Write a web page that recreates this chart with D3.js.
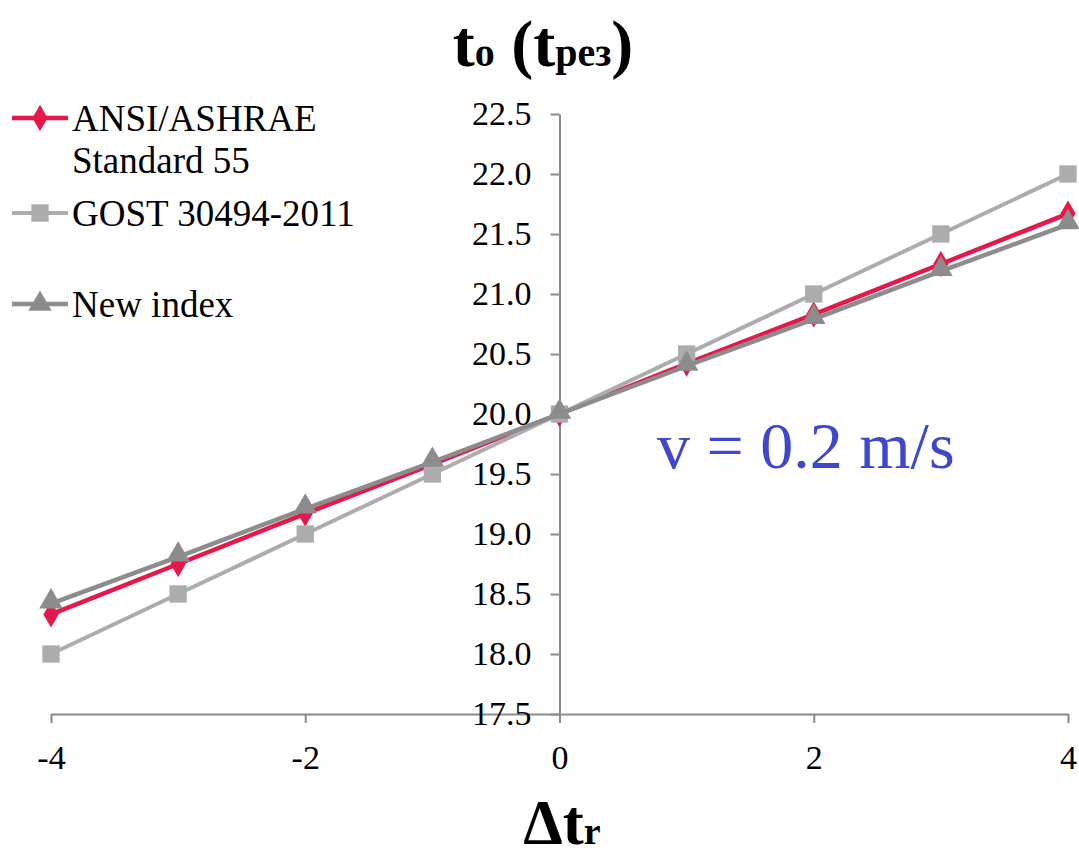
<!DOCTYPE html>
<html>
<head>
    <title>to vs delta tr</title>
    <script src="https://d3js.org/d3.v7.min.js"></script>
    <style>
        body { margin: 0; background-color: #ffffff; }
        svg text { font-family: "Liberation Serif", "Times New Roman", serif; }
    </style>
</head>
<body>
    <svg id="chart" width="1079" height="860"></svg>
    <script>
        // data
        var dtr = [-4, -3, -2, -1, 0, 1, 2, 3, 4];
        var ansi = [18.33, 18.75, 19.17, 19.58, 20.0, 20.42, 20.83, 21.25, 21.67];
        var gost = [18.0, 18.5, 19.0, 19.5, 20.0, 20.5, 21.0, 21.5, 22.0];
        var newIndex = [18.42, 18.81, 19.21, 19.6, 20.0, 20.4, 20.79, 21.19, 21.58];
        var yTicks = [17.5, 18.0, 18.5, 19.0, 19.5, 20.0, 20.5, 21.0, 21.5, 22.0, 22.5];
        var xTicks = [-4, -2, 0, 2, 4];

        var series = [
            { name: "ANSI/ASHRAE", name2: "Standard 55", values: ansi, color: "#e8174a", width: 4.5, marker: "diamond", legendY: 118 },
            { name: "GOST 30494-2011", values: gost, color: "#acacac", width: 4, marker: "square", legendY: 213 },
            { name: "New index", values: newIndex, color: "#8c8c8c", width: 4.5, marker: "triangle", legendY: 304 }
        ];

        var svg = d3.select("#chart");

        var xScale = d3.scaleLinear().domain([-4, 4]).range([51, 1068]);
        var yScale = d3.scaleLinear().domain([17.5, 22.5]).range([714, 114]);

        var axisColor = "#8a8a8a";

        // x axis at y = 17.5
        var xAxis = svg.append("g")
            .attr("transform", "translate(0," + yScale(17.5) + ")")
            .attr("font-family", "Liberation Serif")
            .call(d3.axisBottom(xScale).tickValues(xTicks).tickSize(9).tickPadding(22).tickSizeOuter(0).tickFormat(d3.format("d")));
        xAxis.attr("font-family", "Liberation Serif");
        xAxis.select(".domain").attr("stroke", axisColor).attr("stroke-width", 2);
        xAxis.selectAll(".tick line").attr("stroke", axisColor).attr("stroke-width", 2);
        xAxis.selectAll(".tick text")
            .attr("fill", "#000")
            .style("font-size", "34px")
            .style("font-family", "Liberation Serif")
            .text(function(d) { return d < 0 ? "-" + Math.abs(d) : d; });

        // y axis at x = 0
        var yAxis = svg.append("g")
            .attr("transform", "translate(" + xScale(0) + ",0)")
            .call(d3.axisLeft(yScale).tickValues(yTicks).tickSize(9).tickPadding(19).tickSizeOuter(0).tickFormat(d3.format(".1f")));
        yAxis.attr("font-family", "Liberation Serif");
        yAxis.select(".domain").attr("stroke", axisColor).attr("stroke-width", 2);
        yAxis.selectAll(".tick line").attr("stroke", axisColor).attr("stroke-width", 2);
        yAxis.selectAll(".tick text")
            .attr("fill", "#000")
            .style("font-size", "34px")
            .style("font-family", "Liberation Serif");

        function markerPath(type) {
            if (type === "diamond") return d3.symbol().type(d3.symbolDiamond).size(200)();
            if (type === "square") return d3.symbol().type(d3.symbolSquare).size(300)();
            return d3.symbol().type(d3.symbolTriangle).size(240)();
        }

        var line = d3.line()
            .x(function(d) { return xScale(d[0]); })
            .y(function(d) { return yScale(d[1]); });

        series.forEach(function(s) {
            var pts = dtr.map(function(x, i) { return [x, s.values[i]]; });
            var g = svg.append("g");
            g.append("path")
                .datum(pts)
                .attr("d", line)
                .attr("fill", "none")
                .attr("stroke", s.color)
                .attr("stroke-width", s.width);
            g.selectAll("path.mk")
                .data(pts)
                .enter()
                .append("path")
                .attr("class", "mk")
                .attr("d", markerPath(s.marker))
                .attr("transform", function(d) {
                    var dy = s.marker === "triangle" ? -2 : 0;
                    return "translate(" + xScale(d[0]) + "," + (yScale(d[1]) + dy) + ")";
                })
                .attr("fill", s.color);

            // legend entry
            svg.append("line")
                .attr("x1", 12).attr("x2", 68)
                .attr("y1", s.legendY).attr("y2", s.legendY)
                .attr("stroke", s.color)
                .attr("stroke-width", s.width);
            svg.append("path")
                .attr("d", markerPath(s.marker))
                .attr("transform", "translate(40," + s.legendY + ")")
                .attr("fill", s.color);
            svg.append("text")
                .attr("x", 72).attr("y", s.legendY + 13)
                .style("font-size", "37px")
                .text(s.name);
            if (s.name2) {
                svg.append("text")
                    .attr("x", 72).attr("y", s.legendY + 55)
                    .style("font-size", "37px")
                    .text(s.name2);
            }
        });

        // y title
        var yt = svg.append("text")
            .attr("x", 543).attr("y", 66)
            .attr("text-anchor", "middle")
            .style("font-weight", "bold")
            .style("font-size", "66px");
        yt.append("tspan").text("t");
        yt.append("tspan").style("font-size", "40px").text("o");
        yt.append("tspan").text(" (t");
        yt.append("tspan").style("font-size", "40px").text("рез");
        yt.append("tspan").text(")");

        // x title
        var xt = svg.append("text")
            .attr("x", 562).attr("y", 844)
            .attr("text-anchor", "middle")
            .style("font-weight", "bold")
            .style("font-size", "63px");
        xt.append("tspan").text("Δt");
        xt.append("tspan").style("font-size", "38px").text("r");

        // annotation
        svg.append("text")
            .attr("x", 657).attr("y", 468)
            .attr("fill", "#3f48cc")
            .style("font-size", "66px")
            .text("v = 0.2 m/s");
    </script>
</body>
</html>
